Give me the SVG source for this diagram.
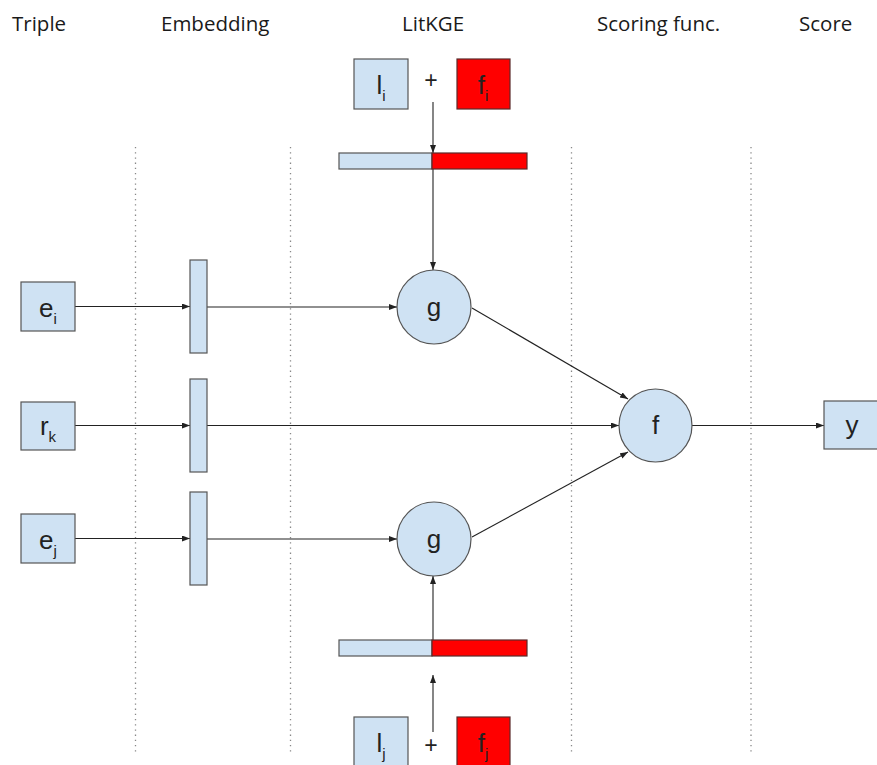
<svg xmlns="http://www.w3.org/2000/svg" width="877" height="765" viewBox="0 0 877 765">
<style>
.hdr{font-family:"Open Sans",sans-serif;font-size:20.5px;fill:#1a1a1a}
.lbl{font-family:"Liberation Sans",Arial,sans-serif;font-size:26px;fill:#222;text-anchor:middle}
.sub{font-size:15px}
.blue{fill:#cfe2f3;stroke:#555;stroke-width:1.2}
.red{fill:#ff0000;stroke:#5a2a2a;stroke-width:1.2}
.dot{stroke:#888;stroke-width:1.3;stroke-dasharray:1.3 3.9;fill:none}
.con{stroke:#222;stroke-width:1.1;fill:none}
</style>
<defs>
<marker id="ah" markerUnits="userSpaceOnUse" markerWidth="9" markerHeight="7" refX="8" refY="3" orient="auto">
<path d="M0,0 L8,3 L0,6 z" fill="#222"/>
</marker>
</defs>
<rect width="877" height="765" fill="#fff"/>
<g id="headers">
<text class="hdr" x="12" y="31">Triple</text>
<text class="hdr" x="161" y="31">Embedding</text>
<text class="hdr" x="402" y="31">LitKGE</text>
<text class="hdr" x="597" y="31">Scoring func.</text>
<text class="hdr" x="799" y="31">Score</text>
</g>
<g id="separators">
<line class="dot" x1="135.5" y1="147" x2="135.5" y2="752"/>
<line class="dot" x1="290.5" y1="147" x2="290.5" y2="752"/>
<line class="dot" x1="571.5" y1="147" x2="571.5" y2="752"/>
<line class="dot" x1="751" y1="147" x2="751" y2="752"/>
</g>
<g id="connectors">
<line class="con" x1="75" y1="306.5" x2="190" y2="306.5" marker-end="url(#ah)"/>
<line class="con" x1="207" y1="307" x2="397" y2="307" marker-end="url(#ah)"/>
<line class="con" x1="75" y1="425.5" x2="190" y2="425.5" marker-end="url(#ah)"/>
<line class="con" x1="207" y1="425.5" x2="619" y2="425.5" marker-end="url(#ah)"/>
<line class="con" x1="75" y1="538.5" x2="190" y2="538.5" marker-end="url(#ah)"/>
<line class="con" x1="207" y1="539" x2="397" y2="539" marker-end="url(#ah)"/>
<line class="con" x1="472" y1="308" x2="628" y2="399" marker-end="url(#ah)"/>
<line class="con" x1="472" y1="537" x2="628" y2="452" marker-end="url(#ah)"/>
<line class="con" x1="692" y1="425.5" x2="824" y2="425.5" marker-end="url(#ah)"/>
<line class="con" x1="433" y1="102" x2="433" y2="153" marker-end="url(#ah)"/>
<line class="con" x1="433" y1="169" x2="433" y2="270" marker-end="url(#ah)"/>
<line class="con" x1="433" y1="640" x2="433" y2="576" marker-end="url(#ah)"/>
<line class="con" x1="433" y1="732" x2="433" y2="675" marker-end="url(#ah)"/>
</g>
<g id="node-ei">
<rect class="blue" x="21" y="282" width="54" height="49"/>
<text class="lbl" x="48" y="317">e<tspan class="sub" dy="7">i</tspan></text>
</g>
<g id="node-rk">
<rect class="blue" x="21" y="402" width="54" height="48"/>
<text class="lbl" x="48" y="435">r<tspan class="sub" dy="7">k</tspan></text>
</g>
<g id="node-ej">
<rect class="blue" x="21" y="514" width="54" height="49"/>
<text class="lbl" x="48" y="549">e<tspan class="sub" dy="7">j</tspan></text>
</g>
<g id="emb-ei"><rect class="blue" x="190" y="260" width="17" height="93"/></g>
<g id="emb-rk"><rect class="blue" x="190" y="379" width="17" height="93"/></g>
<g id="emb-ej"><rect class="blue" x="190" y="492" width="17" height="93"/></g>
<g id="node-li">
<rect class="blue" x="354" y="59" width="54" height="50"/>
<text class="lbl" x="381" y="94">l<tspan class="sub" dy="7">i</tspan></text>
</g>
<g id="plus-top"><text class="lbl" x="431" y="88" style="font-size:23px">+</text></g>
<g id="node-fi">
<rect class="red" x="457" y="59" width="53" height="50"/>
<text class="lbl" x="483" y="94">f<tspan class="sub" dy="7">i</tspan></text>
</g>
<g id="concat-top">
<rect class="blue" x="339" y="153" width="93" height="16"/>
<rect class="red" x="432" y="153" width="95" height="16"/>
</g>
<g id="node-g1">
<circle class="blue" cx="434" cy="307" r="37"/>
<text class="lbl" x="434" y="316">g</text>
</g>
<g id="node-g2">
<circle class="blue" cx="434" cy="539" r="37"/>
<text class="lbl" x="434" y="548">g</text>
</g>
<g id="node-f">
<circle class="blue" cx="655.5" cy="425.5" r="36.5"/>
<text class="lbl" x="655.5" y="434">f</text>
</g>
<g id="node-y">
<rect class="blue" x="824" y="401" width="56" height="48"/>
<text class="lbl" x="852" y="434">y</text>
</g>
<g id="concat-bottom">
<rect class="blue" x="339" y="640" width="93" height="16"/>
<rect class="red" x="432" y="640" width="95" height="16"/>
</g>
<g id="node-lj">
<rect class="blue" x="354" y="717" width="54" height="50"/>
<text class="lbl" x="381" y="752">l<tspan class="sub" dy="7">j</tspan></text>
</g>
<g id="plus-bottom"><text class="lbl" x="431" y="753" style="font-size:23px">+</text></g>
<g id="node-fj">
<rect class="red" x="457" y="717" width="53" height="50"/>
<text class="lbl" x="483" y="752">f<tspan class="sub" dy="7">j</tspan></text>
</g>
</svg>
